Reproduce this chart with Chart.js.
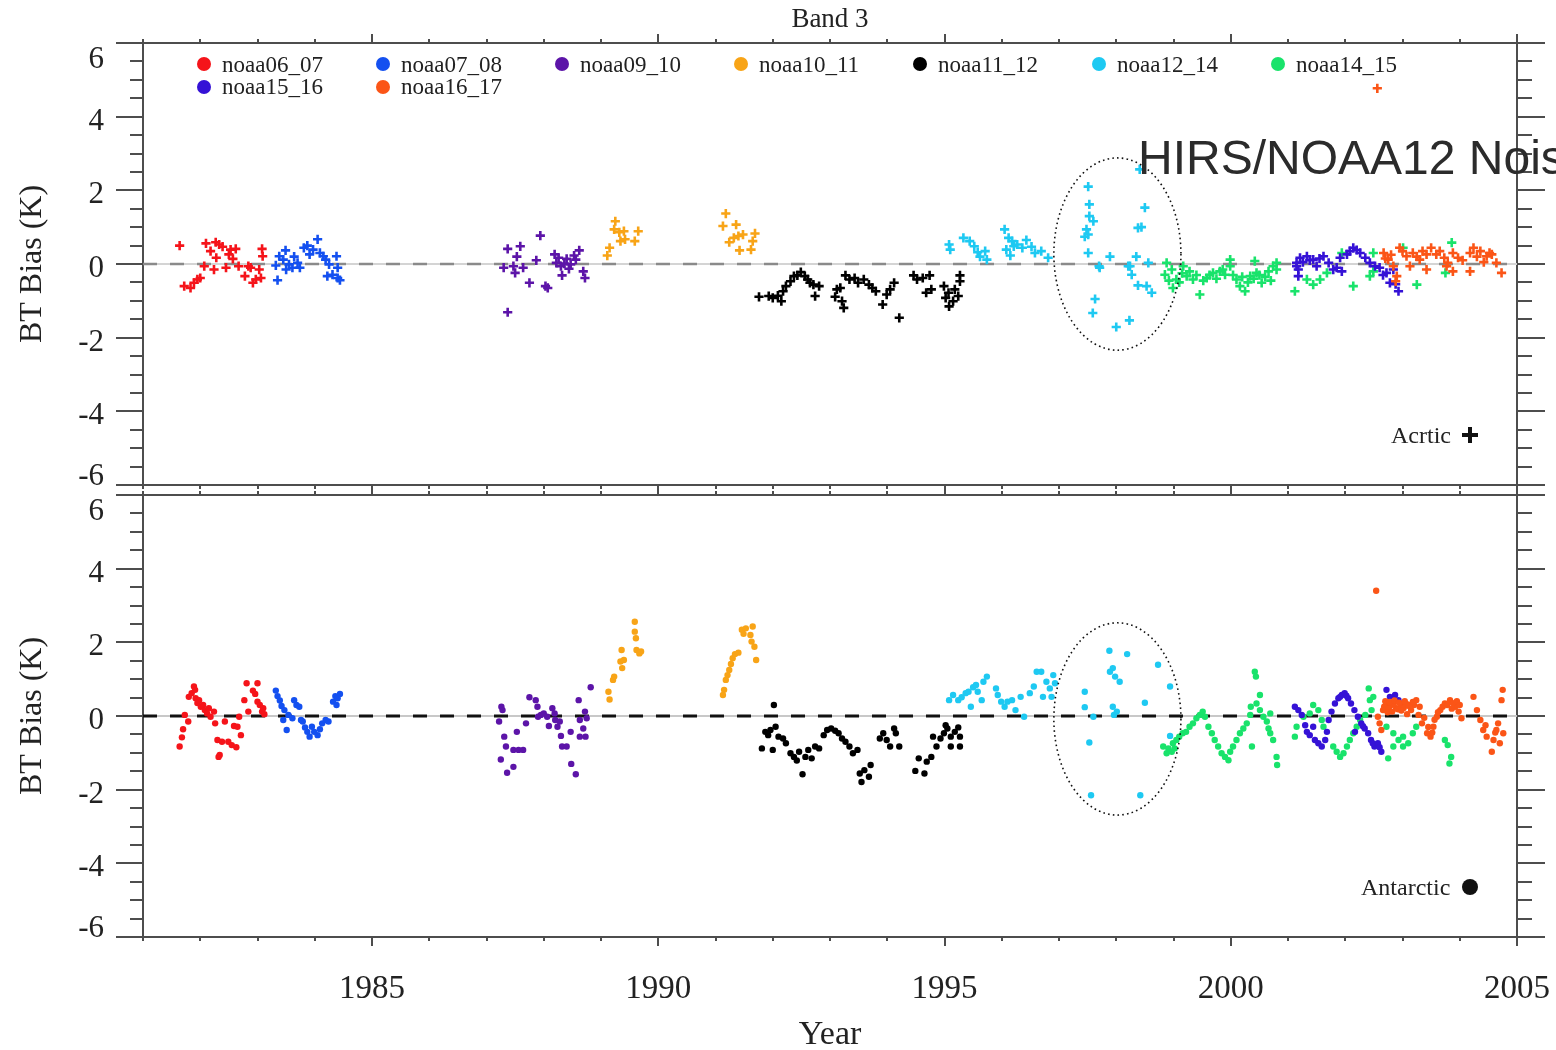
<!DOCTYPE html>
<html><head><meta charset="utf-8">
<script src="https://cdn.jsdelivr.net/npm/chart.js@4.4.1/dist/chart.umd.min.js"></script>
<style>
html,body{margin:0;padding:0;background:#fff;width:1556px;height:1050px;overflow:hidden;position:relative;}
canvas{position:absolute;left:0;}
#cTop{top:0;z-index:1;}
#cBot{top:430px;z-index:2;}
.ov{position:absolute;z-index:5;white-space:nowrap;}
.lgText{font-family:'Liberation Serif','Times New Roman',serif;font-size:23px;line-height:23px;color:#222;}
.lgDot{width:14px;height:14px;border-radius:50%;}
.note{font-family:'Liberation Serif','Times New Roman',serif;font-size:24px;line-height:24px;color:#222;}
.big{font-family:'Liberation Sans',Arial,sans-serif;font-size:48px;line-height:48px;color:#2b2b2b;}
</style></head><body>
<canvas id="cTop" width="1556" height="560"></canvas>
<canvas id="cBot" width="1556" height="620"></canvas>
<div id="overlay"></div>
<script>
// ---------------- data ----------------
const seriesNames = ['noaa06_07','noaa07_08','noaa09_10','noaa10_11','noaa11_12','noaa12_14','noaa14_15','noaa15_16','noaa16_17'];
const seriesColors = ['#f5141a','#1450f0','#5c14a8','#f8a417','#000000','#1ec9f2','#19e36b','#3512d6','#fb5517'];
const xTickValues = [1985, 1990, 1995, 2000, 2005];
const xTickLabels = ['1985', '1990', '1995', '2000', '2005'];
const yTickValues = [-6, -4, -2, 0, 2, 4, 6];
const yTickLabels = ['-6', '-4', '-2', '0', '2', '4', '6'];
const zeroLineX = [1981, 2005];
const panelTitle = 'Band 3';
const xTitle = 'Year';
const yTitle = 'BT Bias (K)';

// Arctic (top panel, "+" markers)
const arctic_n06_07 = [[1981.64,0.50],[1981.72,-0.60],[1981.83,-0.65],[1981.89,-0.51],[1981.95,-0.42],[1982.00,-0.38],[1982.07,-0.06],[1982.10,0.56],[1982.18,0.35],[1982.24,-0.15],[1982.27,0.59],[1982.28,0.17],[1982.33,0.53],[1982.39,0.47],[1982.45,-0.10],[1982.50,0.26],[1982.53,0.39],[1982.57,0.14],[1982.62,0.41],[1982.67,-0.06],[1982.78,-0.33],[1982.84,-0.06],[1982.88,-0.10],[1982.92,-0.51],[1982.97,-0.42],[1983.03,-0.15],[1983.08,0.41],[1983.09,0.21],[1983.06,-0.38]];
const arctic_n07_08 = [[1983.35,-0.44],[1983.32,-0.04],[1983.38,0.21],[1983.45,0.12],[1983.49,0.37],[1983.50,-0.15],[1983.55,-0.01],[1983.61,-0.10],[1983.64,0.20],[1983.70,0.03],[1983.74,-0.10],[1983.81,0.44],[1983.87,0.50],[1983.91,0.26],[1983.97,0.39],[1984.05,0.67],[1984.09,0.30],[1984.15,0.21],[1984.19,0.12],[1984.25,-0.01],[1984.22,-0.33],[1984.31,-0.29],[1984.38,0.21],[1984.40,-0.10],[1984.40,-0.38],[1984.44,-0.44]];
const arctic_n09_10 = [[1987.37,0.41],[1987.37,-1.31],[1987.30,-0.10],[1987.47,-0.06],[1987.50,-0.24],[1987.53,0.20],[1987.59,0.48],[1987.64,-0.10],[1987.75,-0.51],[1987.87,0.10],[1987.94,0.77],[1988.03,-0.60],[1988.07,-0.65],[1988.19,0.26],[1988.22,0.03],[1988.26,0.17],[1988.30,-0.06],[1988.32,-0.31],[1988.36,0.01],[1988.40,0.14],[1988.44,-0.13],[1988.47,-0.01],[1988.53,0.23],[1988.56,0.12],[1988.62,0.37],[1988.69,-0.20],[1988.72,-0.38]];
const arctic_n10_11 = [[1989.11,0.23],[1989.15,0.44],[1989.25,1.16],[1989.23,0.94],[1989.32,0.86],[1989.40,0.89],[1989.34,0.62],[1989.42,0.67],[1989.59,0.62],[1989.65,0.89],[1991.18,1.37],[1991.13,1.03],[1991.36,1.07],[1991.24,0.59],[1991.32,0.71],[1991.40,0.76],[1991.48,0.80],[1991.42,0.37],[1991.65,0.62],[1991.69,0.83],[1991.62,0.39]];
const arctic_n11_12 = [[1991.76,-0.89],[1991.93,-0.87],[1992.00,-0.92],[1992.09,-0.86],[1992.15,-1.01],[1992.18,-0.74],[1992.23,-0.60],[1992.31,-0.47],[1992.37,-0.33],[1992.43,-0.31],[1992.49,-0.22],[1992.56,-0.33],[1992.61,-0.42],[1992.65,-0.51],[1992.71,-0.56],[1992.74,-0.87],[1992.81,-0.60],[1993.09,-0.89],[1993.12,-0.69],[1993.18,-0.65],[1993.24,-1.19],[1993.21,-1.01],[1993.27,-0.31],[1993.34,-0.42],[1993.43,-0.38],[1993.49,-0.51],[1993.59,-0.42],[1993.68,-0.56],[1993.74,-0.65],[1993.80,-0.74],[1993.92,-1.10],[1993.99,-0.83],[1994.05,-0.69],[1994.12,-0.51],[1994.21,-1.46],[1994.46,-0.31],[1994.52,-0.42],[1994.62,-0.38],[1994.74,-0.31],[1994.77,-0.69],[1994.68,-0.78],[1994.99,-0.60],[1995.02,-0.92],[1995.07,-0.78],[1995.08,-1.15],[1995.15,-1.01],[1995.18,-0.69],[1995.24,-0.87],[1995.27,-0.31],[1995.27,-0.47]];
const arctic_n12_14 = [[1995.08,0.53],[1995.10,0.39],[1995.33,0.71],[1995.44,0.62],[1995.52,0.48],[1995.58,0.32],[1995.62,0.20],[1995.71,0.35],[1995.74,0.12],[1996.05,0.94],[1996.12,0.71],[1996.18,0.62],[1996.21,0.48],[1996.08,0.39],[1996.15,0.23],[1996.27,0.53],[1996.36,0.44],[1996.43,0.65],[1996.52,0.47],[1996.58,0.30],[1996.69,0.35],[1996.81,0.17],[1997.51,2.10],[1997.53,1.62],[1997.53,1.30],[1997.60,1.16],[1997.48,0.94],[1997.45,0.74],[1997.51,0.80],[1997.51,0.30],[1997.89,0.20],[1998.35,0.20],[1998.41,2.57],[1998.50,1.53],[1998.38,0.98],[1998.44,1.00],[1998.56,0.03],[1997.71,-0.10],[1998.21,-0.06],[1998.27,-0.29],[1998.38,-0.58],[1998.53,-0.60],[1998.62,-0.78],[1997.63,-0.95],[1997.59,-1.33],[1998.00,-1.71],[1998.23,-1.53],[1997.70,-0.06],[1998.24,-0.06]];
const arctic_n14_15 = [[1998.85,-0.29],[1998.97,-0.15],[1998.99,-0.65],[1999.05,-0.42],[1999.17,-0.06],[1999.23,-0.33],[1999.34,-0.42],[1999.46,-0.83],[1999.58,-0.38],[1999.69,-0.24],[1999.81,-0.20],[1999.90,-0.29],[1999.99,-0.06],[2000.10,-0.42],[2000.16,-0.60],[2000.25,-0.74],[2000.34,-0.33],[2000.45,-0.24],[2000.54,-0.51],[2000.66,-0.20],[2000.74,-0.06],[2000.80,-0.15],[2001.12,-0.74],[2001.33,-0.42],[2001.44,-0.56],[2001.56,-0.42],[2001.68,-0.24],[2002.14,-0.60],[2002.43,-0.33],[2002.49,-0.20],[2003.25,-0.56],[2003.75,-0.24],[1998.88,0.03],[1999.99,0.12],[2000.42,0.08],[2000.80,0.03],[2003.86,0.58],[2003.01,0.44],[2002.49,0.30],[2001.94,0.30],[1999.10,-0.50],[1999.28,-0.20],[1999.40,-0.30],[1999.52,-0.45],[1999.63,-0.30],[1999.75,-0.40],[1999.86,-0.15],[2000.04,-0.30],[2000.20,-0.35],[2000.30,-0.50],[2000.40,-0.40],[2000.50,-0.30],[2000.60,-0.35],[2000.70,-0.45],[1999.15,-0.25],[1998.92,-0.45]];
const arctic_n15_16 = [[2001.15,0.03],[2001.18,-0.15],[2001.21,0.17],[2001.33,0.21],[2001.44,0.12],[2001.50,-0.06],[2001.62,0.21],[2001.71,0.03],[2001.79,-0.15],[2001.85,-0.10],[2001.94,-0.20],[2001.91,0.17],[2002.03,0.26],[2002.14,0.44],[2002.26,0.30],[2002.35,0.17],[2002.43,0.03],[2002.52,-0.06],[2002.72,-0.24],[2002.78,-0.51],[2002.93,-0.74],[2002.84,-0.15],[2001.15,-0.06],[2001.18,-0.33],[2001.26,0.05],[2001.38,0.10],[2001.55,0.15],[2002.08,0.35],[2002.20,0.38],[2002.60,-0.10],[2002.66,-0.30],[2002.88,-0.55]];
const arctic_n16_17 = [[2002.56,4.77],[2002.67,0.30],[2002.75,0.12],[2002.84,-0.06],[2002.90,-0.33],[2002.95,0.44],[2003.07,0.21],[2003.18,0.30],[2003.30,0.12],[2003.42,0.26],[2003.50,0.44],[2003.59,0.26],[2003.73,0.17],[2003.79,0.03],[2003.88,0.30],[2003.97,0.17],[2004.18,0.30],[2004.24,0.44],[2004.36,0.35],[2004.47,0.21],[2004.56,0.26],[2004.64,0.03],[2004.73,-0.24],[2004.18,-0.20],[2003.88,-0.20],[2003.77,-0.06],[2003.42,-0.15],[2003.13,-0.06],[2002.88,-0.47],[2002.70,0.15],[2002.80,0.25],[2003.00,0.35],[2003.25,0.20],[2003.35,0.35],[2003.65,0.35],[2004.05,0.10],[2004.30,0.20],[2004.42,0.05],[2004.52,0.30]];

// Antarctic (bottom panel, dot markers)
const antarctic_n06_07 = [[1981.64,-0.83],[1981.68,-0.58],[1981.70,-0.36],[1981.73,0.03],[1981.79,-0.15],[1981.80,0.52],[1981.85,0.62],[1981.89,0.80],[1981.91,0.71],[1981.92,0.48],[1981.95,0.35],[1981.98,0.43],[1982.01,0.25],[1982.05,0.30],[1982.08,0.16],[1982.12,0.07],[1982.15,0.21],[1982.18,-0.02],[1982.24,0.12],[1982.26,-0.20],[1982.30,-0.65],[1982.32,-1.11],[1982.34,-1.06],[1982.38,-0.70],[1982.43,-0.15],[1982.49,-0.70],[1982.55,-0.79],[1982.59,-0.27],[1982.63,-0.85],[1982.65,-0.29],[1982.68,-0.02],[1982.71,-0.52],[1982.77,0.43],[1982.81,0.89],[1982.84,0.12],[1982.92,0.69],[1982.96,0.60],[1983.00,0.89],[1983.00,0.39],[1983.04,0.30],[1983.08,0.12],[1983.12,0.05],[1983.10,0.21]];
const antarctic_n07_08 = [[1983.32,0.69],[1983.35,0.54],[1983.39,0.42],[1983.42,0.27],[1983.45,-0.11],[1983.47,0.16],[1983.51,-0.38],[1983.54,0.03],[1983.61,-0.06],[1983.64,0.43],[1983.68,0.30],[1983.73,0.25],[1983.76,-0.11],[1983.79,-0.15],[1983.83,-0.31],[1983.87,-0.43],[1983.91,-0.56],[1983.95,-0.29],[1983.99,-0.43],[1984.05,-0.52],[1984.09,-0.36],[1984.13,-0.20],[1984.19,-0.11],[1984.24,-0.15],[1984.32,0.39],[1984.36,0.54],[1984.40,0.48],[1984.44,0.60],[1984.38,0.30]];
const antarctic_n09_10 = [[1987.26,0.25],[1987.28,0.16],[1987.22,-0.15],[1987.31,-0.56],[1987.34,-0.83],[1987.25,-1.18],[1987.36,-1.54],[1987.47,-1.38],[1987.47,-0.92],[1987.53,-0.43],[1987.56,-0.92],[1987.64,-0.92],[1987.69,-0.20],[1987.75,0.51],[1987.86,0.43],[1987.89,0.25],[1987.90,-0.02],[1987.95,0.03],[1988.00,0.07],[1988.06,-0.02],[1988.09,-0.27],[1988.15,0.21],[1988.19,0.07],[1988.20,-0.11],[1988.24,-0.29],[1988.28,-0.15],[1988.30,-0.54],[1988.32,-0.83],[1988.40,-0.83],[1988.47,-0.43],[1988.48,-1.30],[1988.56,-1.58],[1988.61,0.43],[1988.63,-0.11],[1988.63,-0.56],[1988.69,-0.34],[1988.72,0.12],[1988.73,-0.56],[1988.75,-0.06],[1988.82,0.78]];
const antarctic_n10_11 = [[1989.15,0.45],[1989.13,0.66],[1989.21,0.98],[1989.23,1.07],[1989.34,1.48],[1989.36,1.79],[1989.40,1.52],[1989.37,1.30],[1989.59,2.56],[1989.59,2.29],[1989.61,2.11],[1989.62,1.79],[1989.67,1.70],[1989.70,1.75],[1991.13,0.57],[1991.15,0.71],[1991.18,0.98],[1991.21,1.11],[1991.24,1.25],[1991.27,1.41],[1991.30,1.57],[1991.34,1.68],[1991.40,1.72],[1991.46,2.34],[1991.49,2.23],[1991.53,2.38],[1991.61,2.20],[1991.65,2.43],[1991.63,2.02],[1991.68,1.88],[1991.71,1.52]];
const antarctic_n11_12 = [[1992.02,0.30],[1991.81,-0.88],[1992.00,-0.92],[1991.87,-0.43],[1991.92,-0.52],[1991.96,-0.38],[1992.05,-0.29],[1992.10,-0.56],[1992.18,-0.61],[1992.23,-0.74],[1992.31,-1.01],[1992.37,-1.11],[1992.42,-1.21],[1992.46,-0.97],[1992.52,-1.58],[1992.57,-1.11],[1992.62,-0.92],[1992.68,-1.15],[1992.74,-0.83],[1992.81,-0.88],[1992.89,-0.52],[1992.95,-0.38],[1993.02,-0.34],[1993.09,-0.40],[1993.15,-0.47],[1993.21,-0.61],[1993.27,-0.70],[1993.34,-0.83],[1993.40,-1.01],[1993.48,-0.92],[1993.52,-1.56],[1993.55,-1.79],[1993.60,-1.47],[1993.68,-1.65],[1993.71,-1.33],[1993.87,-0.61],[1993.93,-0.47],[1993.99,-0.65],[1994.05,-0.83],[1994.12,-0.34],[1994.15,-0.47],[1994.21,-0.83],[1994.49,-1.49],[1994.55,-1.15],[1994.65,-1.56],[1994.69,-1.24],[1994.77,-1.11],[1994.80,-0.56],[1994.86,-0.83],[1994.93,-0.61],[1994.99,-0.47],[1995.02,-0.25],[1995.05,-0.34],[1995.11,-0.56],[1995.18,-0.43],[1995.24,-0.31],[1995.27,-0.56],[1995.27,-0.83],[1995.11,-0.83]];
const antarctic_n12_14 = [[1995.08,0.43],[1995.15,0.57],[1995.24,0.43],[1995.30,0.51],[1995.37,0.62],[1995.42,0.66],[1995.46,0.25],[1995.50,0.78],[1995.55,0.84],[1995.58,0.66],[1995.65,0.43],[1995.68,0.93],[1995.74,1.07],[1995.90,0.75],[1995.93,0.57],[1995.99,0.39],[1996.05,0.25],[1996.10,0.39],[1996.18,0.43],[1996.24,0.16],[1996.33,0.52],[1996.39,-0.02],[1996.49,0.62],[1996.56,0.80],[1996.61,1.20],[1996.69,1.20],[1996.90,1.11],[1996.78,0.93],[1996.84,0.75],[1996.72,0.52],[1996.87,0.52],[1996.93,0.89],[1997.45,0.66],[1997.45,0.24],[1997.60,-0.02],[1997.53,-0.72],[1997.56,-2.15],[1997.88,1.77],[1998.19,1.68],[1997.89,1.20],[1997.94,1.30],[1997.98,1.07],[1998.06,0.93],[1997.94,0.25],[1998.01,0.12],[1997.96,0.03],[1998.50,0.36],[1998.73,1.39],[1998.94,0.80],[1998.42,-2.15],[1998.94,-0.54]];
const antarctic_n14_15 = [[1998.82,-0.83],[1998.88,-1.01],[1998.91,-0.88],[1998.97,-0.97],[1998.99,-0.74],[1999.02,-0.88],[1999.05,-0.65],[1999.10,-0.56],[1999.16,-0.47],[1999.22,-0.43],[1999.28,-0.29],[1999.34,-0.20],[1999.40,-0.06],[1999.46,0.03],[1999.51,0.12],[1999.55,-0.02],[1999.61,-0.29],[1999.67,-0.47],[1999.72,-0.65],[1999.78,-0.83],[1999.84,-1.01],[1999.90,-1.11],[1999.96,-1.20],[1999.99,-0.97],[2000.04,-0.83],[2000.10,-0.65],[2000.16,-0.47],[2000.22,-0.34],[2000.28,-0.20],[2000.34,0.03],[2000.35,0.25],[2000.37,-0.83],[2000.42,1.20],[2000.44,1.07],[2000.45,0.34],[2000.51,0.16],[2000.51,0.57],[2000.57,-0.02],[2000.63,-0.15],[2000.66,-0.34],[2000.69,-0.47],[2000.74,-0.65],[2000.80,-1.11],[2000.81,-1.33],[2000.69,0.07],[2001.15,-0.29],[2001.12,-0.56],[2001.27,-0.02],[2001.38,0.07],[2001.44,0.30],[2001.53,0.16],[2001.59,-0.11],[2001.62,-0.29],[2001.79,-0.83],[2001.85,-0.97],[2001.91,-1.11],[2001.97,-1.01],[2002.03,-0.83],[2002.08,-0.65],[2002.14,-0.47],[2002.20,-0.29],[2002.26,-0.11],[2002.35,0.03],[2002.41,0.75],[2002.43,0.43],[2002.46,0.16],[2002.49,0.52],[2002.72,-0.29],[2002.75,-1.15],[2002.84,-0.47],[2002.93,-0.65],[2003.01,-0.56],[2003.10,-0.74],[2003.18,-0.47],[2003.24,-0.29],[2003.74,-0.65],[2003.79,-0.79],[2003.85,-1.11],[2003.82,-1.29],[2002.84,-0.83],[2003.01,-0.83]];
const antarctic_n15_16 = [[2001.12,0.25],[2001.18,0.16],[2001.24,0.03],[2001.30,-0.25],[2001.33,-0.43],[2001.38,-0.52],[2001.44,-0.29],[2001.47,-0.65],[2001.53,-0.74],[2001.59,-0.83],[2001.65,-0.65],[2001.68,-0.43],[2001.71,-0.11],[2001.76,0.12],[2001.82,0.34],[2001.88,0.48],[2001.94,0.57],[2001.99,0.62],[2002.05,0.48],[2002.10,0.34],[2002.16,0.16],[2002.22,-0.02],[2002.28,-0.20],[2002.34,-0.34],[2002.40,-0.47],[2002.45,-0.65],[2002.51,-0.83],[2002.57,-0.74],[2002.63,-0.97],[2002.72,0.71],[2002.78,0.52],[2002.87,0.57],[2002.93,0.43],[2002.17,-0.43],[2001.91,0.52],[2002.02,0.55],[2002.31,-0.28],[2002.48,-0.74],[2002.60,-0.85]];
const antarctic_n16_17 = [[2002.54,3.40],[2002.57,-0.02],[2002.60,-0.20],[2002.63,-0.38],[2002.66,0.16],[2002.72,0.34],[2002.80,0.30],[2002.89,0.21],[2002.97,0.30],[2003.06,0.34],[2003.15,0.16],[2003.24,0.43],[2003.28,0.03],[2003.34,-0.20],[2003.43,-0.47],[2003.49,-0.56],[2003.54,-0.29],[2003.60,-0.02],[2003.66,0.16],[2003.74,0.34],[2003.83,0.43],[2003.92,0.25],[2003.98,0.12],[2004.03,-0.06],[2004.24,0.52],[2004.30,0.16],[2004.36,-0.11],[2004.41,-0.38],[2004.47,-0.56],[2004.56,-0.97],[2004.59,-0.65],[2004.64,-0.38],[2004.67,-0.20],[2004.70,-0.74],[2004.73,0.43],[2004.75,0.71],[2004.76,-0.47],[2002.68,0.25],[2002.76,0.20],[2002.84,0.32],[2002.92,0.18],[2003.02,0.22],[2003.10,0.28],[2003.20,0.30],[2003.45,-0.30],[2003.70,0.25],[2003.88,0.35],[2004.45,-0.25],[2004.62,-0.45],[2002.70,0.40],[2002.78,0.38],[2002.86,0.42],[2002.94,0.36],[2003.04,0.40],[2003.12,0.30],[2003.18,0.38],[2002.74,0.10],[2002.82,0.12],[2002.98,0.15],[2003.08,0.05],[2003.30,0.25],[2003.38,-0.05],[2003.52,-0.45],[2003.56,-0.10],[2003.62,0.10],[2003.78,0.30],[2003.86,0.20],[2003.95,0.40],[2004.00,0.30]];

const arcticSeries = [arctic_n06_07, arctic_n07_08, arctic_n09_10, arctic_n10_11, arctic_n11_12, arctic_n12_14, arctic_n14_15, arctic_n15_16, arctic_n16_17];
const antarcticSeries = [antarctic_n06_07, antarctic_n07_08, antarctic_n09_10, antarctic_n10_11, antarctic_n11_12, antarctic_n12_14, antarctic_n14_15, antarctic_n15_16, antarctic_n16_17];

// dotted "noise" ellipses, in data units (centre year, centre bias, half-width in years, half-height in K)
const arcticNoiseEllipse = {cx: 1998.02, cy: 0.27, rx: 1.11, ry: 2.61};
const antarcticNoiseEllipse = {cx: 1998.02, cy: -0.08, rx: 1.11, ry: 2.61};

// ---------------- drawing ----------------
const SERIF = "'Liberation Serif','Times New Roman',serif";
const FRAME = '#4d4d4d';
const X_MIN = 1981, X_MAX = 2005, Y_MIN = -6, Y_MAX = 6;

const ellipsePlugin = {
  id: 'noiseEllipse',
  afterDatasetsDraw(chart, args, opts) {
    const e = opts && opts.ellipse;
    if (!e) return;
    const xs = chart.scales.x, ys = chart.scales.y, ctx = chart.ctx;
    const cx = xs.getPixelForValue(e.cx), cy = ys.getPixelForValue(e.cy);
    const rx = Math.abs(xs.getPixelForValue(e.cx + e.rx) - cx);
    const ry = Math.abs(ys.getPixelForValue(e.cy + e.ry) - cy);
    ctx.save();
    ctx.setLineDash([1.6, 3.2]);
    ctx.lineWidth = 1.6;
    ctx.strokeStyle = '#111';
    ctx.beginPath();
    ctx.ellipse(cx, cy, rx, ry, 0, 0, Math.PI * 2);
    ctx.stroke();
    ctx.restore();
  }
};

function tickGrid(len) {
  return {display: true, drawOnChartArea: false, color: FRAME, lineWidth: 2, tickLength: len, tickWidth: 2};
}
function fixH(h) {
  return s => { s.height = h; s.paddingLeft = 0; s.paddingRight = 0; s.paddingTop = 0; s.paddingBottom = 0; };
}
function fixW(w) {
  return s => { s.width = w; s.paddingLeft = 0; s.paddingRight = 0; s.paddingTop = 0; s.paddingBottom = 0; };
}

function makeConfig(p) {
  const datasets = seriesNames.map((name, i) => ({
    label: name,
    data: p.series[i],
    xAxisID: 'x', yAxisID: 'y',
    order: 20 - i,
    showLine: false,
    pointStyle: p.pointStyle,
    pointRadius: p.pointRadius,
    pointHoverRadius: p.pointRadius,
    pointBorderWidth: p.pointBorderWidth,
    pointBackgroundColor: seriesColors[i],
    pointBorderColor: seriesColors[i]
  }));
  datasets.push({label: 'zero base', data: zeroLineX.map(x => [x, 0]), xAxisID: 'x', yAxisID: 'y', order: 51,
    showLine: true, pointRadius: 0, borderColor: p.zeroBase, borderWidth: 2});
  datasets.push({label: 'zero dash', data: zeroLineX.map(x => [x, 0]), xAxisID: 'x', yAxisID: 'y', order: 50,
    showLine: true, pointRadius: 0, borderColor: p.zeroDash, borderWidth: p.zeroDashWidth, borderDash: [14, 13]});

  const majorX = s => { s.ticks = xTickValues.map(v => ({value: v})); };
  const majorY = s => { s.ticks = yTickValues.map(v => ({value: v})); };
  const last = yTickValues.length - 1;

  return {
    type: 'scatter',
    data: {datasets},
    options: {
      responsive: false,
      animation: false,
      events: [],
      layout: {padding: 0},
      plugins: {
        legend: {display: false},
        tooltip: {enabled: false},
        title: p.showTitle ? {display: true, text: panelTitle, color: '#222', fullSize: false,
          font: {family: SERIF, size: 27, weight: 'normal', lineHeight: 1.2}, padding: {top: 4, bottom: 0}} : {display: false},
        noiseEllipse: {ellipse: p.ellipse}
      },
      scales: {
        x: {
          type: 'linear', axis: 'x', position: 'bottom', min: X_MIN, max: X_MAX,
          afterBuildTicks: majorX,
          ticks: {display: p.showXLabels, autoSkip: false, maxRotation: 0, minRotation: 0, padding: 24, color: '#222',
            font: {family: SERIF, size: 33}, callback: (v, i) => xTickLabels[i]},
          grid: tickGrid(9),
          border: {display: true, color: FRAME, width: 2},
          title: {display: p.showXLabels, text: xTitle, color: '#222', font: {family: SERIF, size: 34, lineHeight: 0.9}, padding: {top: 0, bottom: 0}},
          afterFit: fixH(p.bottomH)
        },
        xMinor: {
          type: 'linear', axis: 'x', position: {y: Y_MIN}, min: X_MIN, max: X_MAX,
          ticks: {display: false, stepSize: 1}, grid: tickGrid(4), border: {display: false},
          afterFit: fixH(0)
        },
        xTop: {
          type: 'linear', axis: 'x', position: 'top', min: X_MIN, max: X_MAX,
          afterBuildTicks: majorX,
          ticks: {display: false}, grid: tickGrid(9),
          border: {display: true, color: FRAME, width: 2},
          afterFit: fixH(p.topH)
        },
        xTopMinor: {
          type: 'linear', axis: 'x', position: {y: Y_MAX}, min: X_MIN, max: X_MAX,
          ticks: {display: false, stepSize: 1}, grid: tickGrid(-4), border: {display: false},
          afterFit: fixH(0)
        },
        y: {
          type: 'linear', axis: 'y', position: 'left', min: Y_MIN, max: Y_MAX,
          afterBuildTicks: majorY,
          ticks: {
            padding: 12, labelOffset: 5, color: '#222',
            callback: (v, i) => i === last ? ['', yTickLabels[i]] : (i === 0 ? [yTickLabels[i], ''] : yTickLabels[i]),
            font: ctx => {
              const idx = ctx.index;
              return {family: SERIF, size: 31, lineHeight: idx === last ? 0.74 : (idx === 0 ? 0.82 : 1.2)};
            }
          },
          grid: tickGrid(27),
          border: {display: true, color: FRAME, width: 2},
          title: {display: true, text: yTitle, color: '#222', font: {family: SERIF, size: 32, lineHeight: 1}, padding: {top: 17, bottom: 0}},
          afterFit: fixW(143)
        },
        yMinor: {
          type: 'linear', axis: 'y', position: {x: X_MIN}, min: Y_MIN, max: Y_MAX,
          ticks: {display: false, stepSize: 0.5}, grid: tickGrid(13), border: {display: false},
          afterFit: fixW(0)
        },
        yRight: {
          type: 'linear', axis: 'y', position: 'right', min: Y_MIN, max: Y_MAX,
          afterBuildTicks: majorY,
          ticks: {display: false}, grid: tickGrid(28),
          border: {display: true, color: FRAME, width: 2},
          afterFit: fixW(39)
        },
        yRightMinor: {
          type: 'linear', axis: 'y', position: {x: X_MAX}, min: Y_MIN, max: Y_MAX,
          ticks: {display: false, stepSize: 0.5}, grid: tickGrid(-15), border: {display: false},
          afterFit: fixW(0)
        }
      }
    },
    plugins: [ellipsePlugin]
  };
}

new Chart(document.getElementById('cTop'), makeConfig({
  series: arcticSeries, pointStyle: 'cross', pointRadius: 4.6, pointBorderWidth: 2.6,
  zeroBase: '#d4d4d4', zeroDash: '#8a8a8a', zeroDashWidth: 2.5,
  showTitle: true, showXLabels: false, topH: 6.6, bottomH: 75, ellipse: arcticNoiseEllipse
}));

new Chart(document.getElementById('cBot'), makeConfig({
  series: antarcticSeries, pointStyle: 'circle', pointRadius: 3.2, pointBorderWidth: 0,
  zeroBase: '#c8c8c8', zeroDash: '#111111', zeroDashWidth: 2.8,
  showTitle: false, showXLabels: true, topH: 65, bottomH: 113, ellipse: antarcticNoiseEllipse
}));

// ---------------- HTML legend & annotations ----------------
const ov = document.getElementById('overlay');
function add(cls, text, style) {
  const d = document.createElement('div');
  d.className = 'ov ' + cls;
  if (text) d.textContent = text;
  Object.assign(d.style, style);
  ov.appendChild(d);
  return d;
}
seriesNames.forEach((name, i) => {
  const col = i % 7, row = Math.floor(i / 7);
  const mx = 204 + 179 * col, my = 64 + 22.5 * row;
  add('lgDot', '', {left: (mx - 7) + 'px', top: (my - 7) + 'px', background: seriesColors[i]});
  add('lgText', name, {left: (mx + 18) + 'px', top: (my - 11.5) + 'px'});
});
add('note', 'Acrtic', {left: '1391px', top: '423px'});
add('', '', {left: '1462px', top: '433px', width: '16px', height: '4px', background: '#111'});
add('', '', {left: '1468px', top: '427px', width: '4px', height: '16px', background: '#111'});
add('note', 'Antarctic', {left: '1361px', top: '875px'});
add('', '', {left: '1462px', top: '879px', width: '16px', height: '16px', borderRadius: '50%', background: '#111'});
add('big', 'HIRS/NOAA12 Noise', {left: '1138px', top: '134px'});
</script>
</body></html>
